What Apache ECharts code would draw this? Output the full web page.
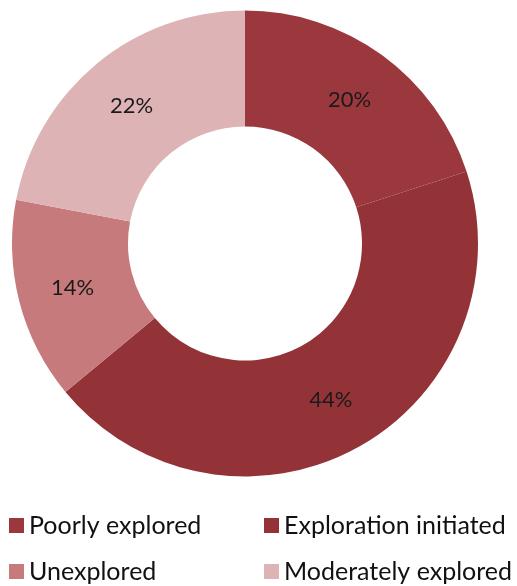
<!DOCTYPE html>
<html>
<head>
<meta charset="utf-8">
<script src="https://cdn.jsdelivr.net/npm/echarts@6/dist/echarts.min.js"></script>
<style>
  html, body { margin: 0; padding: 0; background: #fff; }
  #chart { width: 517px; height: 586px; }
</style>
</head>
<body>
<div id="chart"></div>
<script>
// slice data, clockwise from 12 o'clock
var categories = ['Poorly explored', 'Exploration initiated', 'Unexplored', 'Moderately explored']
var values = [20, 44, 14, 22]
var colors = ['#9b383d', '#943337', '#c77a7b', '#ddb3b5']

var myChart = echarts.init(document.getElementById('chart'))

var pieData = categories.map(function (name, i) {
  return { name: name, value: values[i], itemStyle: { color: colors[i] } }
})

// one legend per item, laid out as 2x2 grid
var legendPos = [[9, 513], [264, 513], [9, 559], [264, 559]]
var legends = categories.map(function (name, i) {
  return {
    left: legendPos[i][0],
    top: legendPos[i][1],
    padding: 0,
    icon: 'rect',
    itemWidth: 15,
    itemHeight: 15,
    selectedMode: false,
    textStyle: {
      fontFamily: 'Lato',
      fontSize: 25,
      color: '#111',
      padding: [0, 0, 0, 0]
    },
    data: [name]
  }
})

var option = {
  animation: false,
  legend: legends,
  series: [{
    type: 'pie',
    center: [245, 243.5],
    radius: [117, 233],
    startAngle: 90,
    clockwise: true,
    label: {
      show: true,
      position: 'inside',
      formatter: '{c}%',
      fontFamily: 'Lato',
      fontSize: 22,
      color: '#1a1a1a'
    },
    labelLine: { show: false },
    itemStyle: { borderWidth: 0 },
    emphasis: { disabled: true },
    data: pieData
  }]
}
myChart.setOption(option)
</script>
</body>
</html>
